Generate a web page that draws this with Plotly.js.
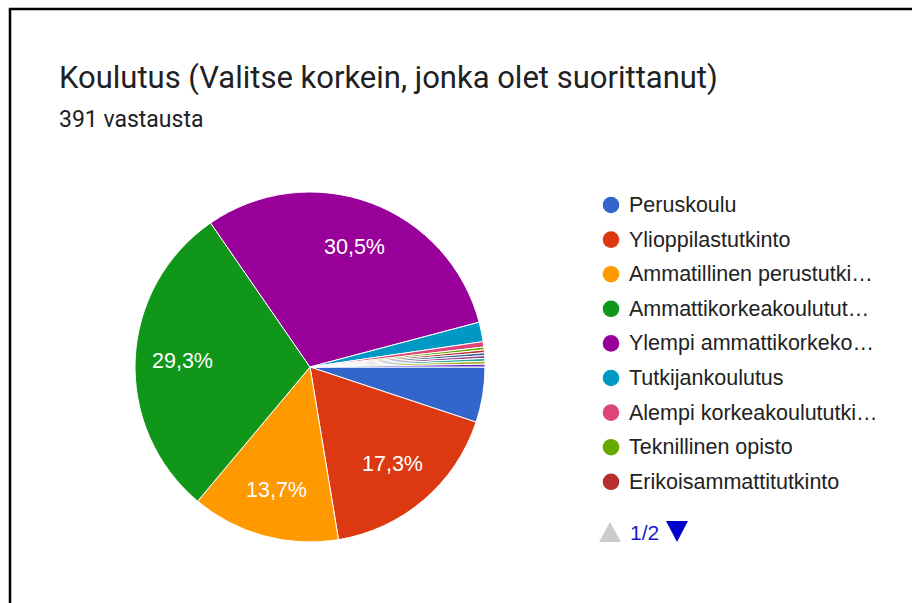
<!DOCTYPE html>
<html>
<head>
<meta charset="utf-8">
<script src="https://cdn.plot.ly/plotly-3.0.1.min.js"></script>
<style>
html,body{margin:0;padding:0;background:#fff;}
#chart{width:912px;height:603px;}
</style>
</head>
<body>
<div id="chart"></div>
<script>
// Data (percent of 391 responses)
const labels = [
  "Peruskoulu",
  "Ylioppilastutkinto",
  "Ammatillinen perustutkinto",
  "Ammattikorkeakoulututkinto",
  "Ylempi ammattikorkeakoulututkinto",
  "Tutkijankoulutus",
  "Alempi korkeakoulututkinto",
  "Teknillinen opisto",
  "Erikoisammattitutkinto",
  "Ylempi korkeakoulututkinto",
  "Opistotason tutkinto",
  "Ammattitutkinto",
  "Lisensiaatti",
  "Muu"
];
const values = [5.1, 17.3, 13.7, 29.3, 30.5, 1.8, 0.5, 0.26, 0.26, 0.26, 0.26, 0.26, 0.26, 0.26];
const legendLabels = [
  "Peruskoulu",
  "Ylioppilastutkinto",
  "Ammatillinen perustutki…",
  "Ammattikorkeakoulutut…",
  "Ylempi ammattikorkeko…",
  "Tutkijankoulutus",
  "Alempi korkeakoulututki…",
  "Teknillinen opisto",
  "Erikoisammattitutkinto"
];
const colors = ["#3366cc","#dc3912","#ff9900","#109618","#990099","#0099c6","#dd4477","#66aa00","#b82e2e","#316395","#994499","#22aa99","#aaaa11","#6633cc"];
const titleText = "Koulutus (Valitse korkein, jonka olet suorittanut)";
const subtitleText = "391 vastausta";
const pagerText = "1/2";

const W = 912, H = 603;
const cx = 310, cy = 367, R = 175;
const px = x => x / W;
const py = y => 1 - y / H;

const trace = {
  type: "pie",
  labels: labels,
  values: values,
  sort: false,
  direction: "clockwise",
  rotation: 90,
  marker: {colors: colors, line: {color: "#ffffff", width: 1}},
  textinfo: "none",
  hoverinfo: "label+percent",
  showlegend: false,
  domain: {x: [px(cx - R), px(cx + R)], y: [py(cy + R), py(cy - R)]}
};

const annotations = [];
const shapes = [];

// slice percentage labels placed along each slice's middle angle (Google Charts style)
const total = values.reduce((a, b) => a + b, 0);
let cum = 0;
values.forEach((v, i) => {
  const frac = v / total;
  const mid = (cum + frac / 2) * 2 * Math.PI; // clockwise from 3 o'clock
  cum += frac;
  if (frac < 0.1) return;
  const rr = 0.73 * R;
  const x = cx + rr * Math.cos(mid);
  const y = cy + rr * Math.sin(mid);
  const txt = (frac * 100).toFixed(1).replace(".", ",") + "%";
  annotations.push({
    xref: "paper", yref: "paper", x: px(x), y: py(y), xanchor: "center", yanchor: "middle",
    text: txt, showarrow: false,
    font: {family: "Arial, 'Liberation Sans', sans-serif", size: 21.5, color: "#ffffff"}
  });
});

annotations.push({
  xref: "paper", yref: "paper", x: px(57), y: py(78), xanchor: "left", yanchor: "middle",
  text: titleText, showarrow: false,
  font: {family: "Roboto, Arial, sans-serif", size: 31, color: "#202124"}
});
annotations.push({
  xref: "paper", yref: "paper", x: px(57), y: py(119), xanchor: "left", yanchor: "middle",
  text: subtitleText, showarrow: false,
  font: {family: "Roboto, Arial, sans-serif", size: 23, color: "#202124"}
});

const legY0 = 205, legStep = 34.6, dotX = 611, dotR = 8.3;
legendLabels.forEach((lab, i) => {
  const y = legY0 + i * legStep;
  shapes.push({
    type: "circle", xref: "paper", yref: "paper",
    x0: px(dotX - dotR), x1: px(dotX + dotR), y0: py(y + dotR), y1: py(y - dotR),
    fillcolor: colors[i], line: {width: 0}
  });
  annotations.push({
    xref: "paper", yref: "paper", x: px(627), y: py(y), xanchor: "left", yanchor: "middle",
    text: lab, showarrow: false,
    font: {family: "Arial, 'Liberation Sans', sans-serif", size: 21.5, color: "#222222"}
  });
});

// pager
const pagerY = 532;
const tri = (x0, x1, ya, yb, up) => up
  ? `M ${px(x0)} ${py(yb)} L ${px((x0 + x1) / 2)} ${py(ya)} L ${px(x1)} ${py(yb)} Z`
  : `M ${px(x0)} ${py(ya)} L ${px((x0 + x1) / 2)} ${py(yb)} L ${px(x1)} ${py(ya)} Z`;
shapes.push({type: "path", xref: "paper", yref: "paper", path: tri(599, 621, 522, 542, true), fillcolor: "#cccccc", line: {width: 0}});
shapes.push({type: "path", xref: "paper", yref: "paper", path: tri(666, 688, 521, 542, false), fillcolor: "#0000cc", line: {width: 0}});
annotations.push({xref:"paper", yref:"paper", x: px(628), y: py(pagerY), xanchor:"left", yanchor:"middle",
  text: pagerText, showarrow:false, font:{family:"Arial, 'Liberation Sans', sans-serif", size: 21, color:"#1a1acc"}});

// frame lines (left and top)
shapes.push({type:"line", xref:"paper", yref:"paper", x0: px(9), x1: 1, y0: py(9), y1: py(9), line:{color:"#000", width:2.5}});
shapes.push({type:"line", xref:"paper", yref:"paper", x0: px(10), x1: px(10), y0: py(8), y1: 0, line:{color:"#000", width:2.5}});

const layout = {
  width: W, height: H,
  margin: {l: 0, r: 0, t: 0, b: 0},
  paper_bgcolor: "#ffffff",
  separators: ", ",
  showlegend: false,
  annotations: annotations,
  shapes: shapes
};

Plotly.newPlot("chart", [trace], layout, {displayModeBar: false, staticPlot: true});
</script>
</body>
</html>
